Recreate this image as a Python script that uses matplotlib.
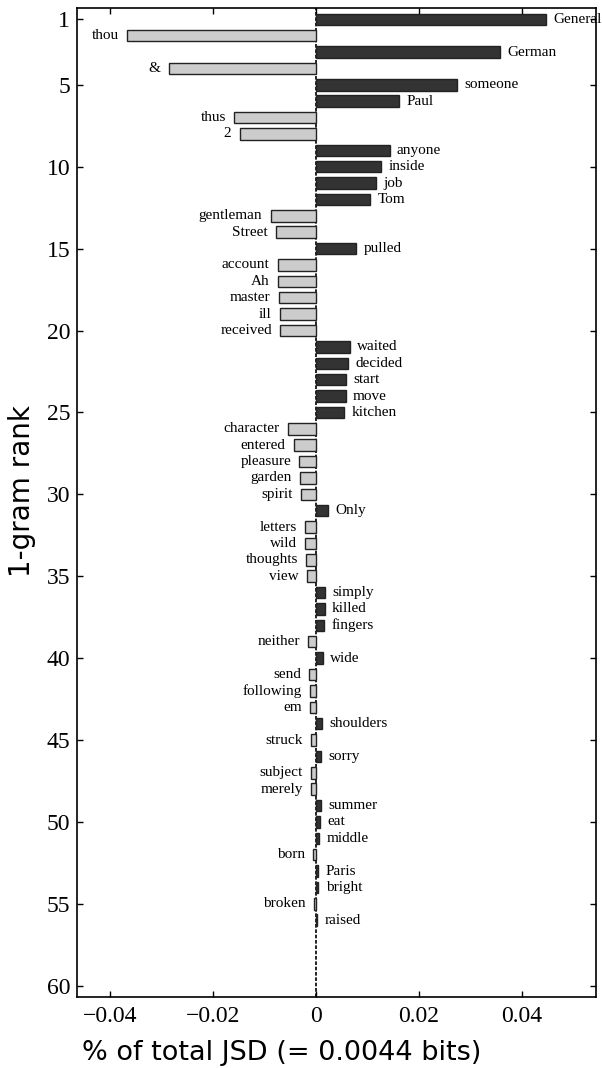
import matplotlib
matplotlib.use("Agg")
import matplotlib.pyplot as plt
import numpy as np

words = ["General", "thou", "German", "&", "someone", "Paul", "thus", "2",
         "anyone", "inside", "job", "Tom", "gentleman", "Street", "pulled",
         "account", "Ah", "master", "ill", "received", "waited", "decided",
         "start", "move", "kitchen", "character", "entered", "pleasure",
         "garden", "spirit", "Only", "letters", "wild", "thoughts", "view",
         "simply", "killed", "fingers", "neither", "wide", "send", "following",
         "em", "shoulders", "struck", "sorry", "subject", "merely", "summer",
         "eat", "middle", "born", "Paris", "bright", "broken", "raised"]
values = [0.0447, -0.0366, 0.0358, -0.0286, 0.0275, 0.0162, -0.0159, -0.0148,
          0.0143, 0.0127, 0.0117, 0.0105, -0.0088, -0.0078, 0.0078,
          -0.0074, -0.0074, -0.0072, -0.0070, -0.0069, 0.0066, 0.0063,
          0.0059, 0.0058, 0.0055, -0.0054, -0.0043, -0.0032,
          -0.0030, -0.0028, 0.0024, -0.0021, -0.0021, -0.0019, -0.0018,
          0.0018, 0.0017, 0.0016, -0.0015, 0.0014, -0.0013, -0.0012,
          -0.0011, 0.0011, -0.0010, 0.0010, -0.0009, -0.0009, 0.0009,
          0.0008, 0.0006, -0.0005, 0.0005, 0.0005, -0.0004, 0.0003]
ranks = list(range(1, len(words) + 1))
ytick_vals = [1, 5, 10, 15, 20, 25, 30, 35, 40, 45, 50, 55, 60]
xtick_vals = [-0.04, -0.02, 0, 0.02, 0.04]
xtick_labels = ["\u22120.04", "\u22120.02", "0", "0.02", "0.04"]

serif = ["Liberation Serif", "DejaVu Serif"]

W, H = 602, 1068
fig = plt.figure(figsize=(W / 100, H / 100), dpi=100)
ax = fig.add_axes([77 / W, 1 - 996.7 / H, 519 / W, (996.7 - 8.3) / H])

colors = ["#333333" if v > 0 else "#cccccc" for v in values]
ax.axvline(0, color="black", lw=1.2, linestyle=(0, (2.2, 1.0)), zorder=1)
ax.barh(ranks, values, height=0.7, color=colors, edgecolor="#222222",
        linewidth=1.0, zorder=2)

for r, v, w in zip(ranks, values, words):
    if v > 0:
        ax.annotate(w, (v, r), xytext=(5.3, 0), textcoords="offset points",
                    ha="left", va="center", fontsize=11, family=serif,
                    annotation_clip=False, zorder=3)
    else:
        ax.annotate(w, (v, r), xytext=(-6, 0), textcoords="offset points",
                    ha="right", va="center", fontsize=11, family=serif,
                    annotation_clip=False, zorder=3)

ax.set_xlim(-0.0464, 0.0544)
ax.set_ylim(60.67, 0.33)
ax.set_yticks(ytick_vals)
ax.set_yticklabels([str(t) for t in ytick_vals], family=serif, fontsize=17)
ax.set_xticks(xtick_vals)
ax.set_xticklabels(xtick_labels, family=serif, fontsize=17)
ax.tick_params(direction="in", length=4, width=1, top=True, right=True)
ax.tick_params(axis="y", pad=5)
ax.tick_params(axis="x", pad=7)
for s in ax.spines.values():
    s.set_linewidth(1.2)

fig.text(281.5 / W, 1 - 1060 / H, "% of total JSD (= 0.0044 bits)",
         fontsize=19.5, family="DejaVu Sans", ha="center", va="baseline")
fig.text(22.5 / W, 1 - 491.5 / H, "1-gram rank", fontsize=20,
         family="DejaVu Sans", ha="center", va="center", rotation=90)

fig.savefig("out.png", dpi=100)
